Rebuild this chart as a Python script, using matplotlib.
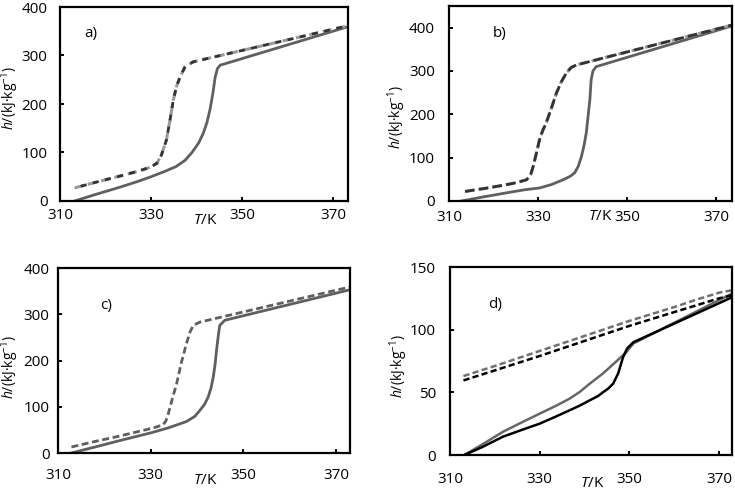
import matplotlib
matplotlib.use("Agg")
import matplotlib.pyplot as plt

plt.rcParams["font.family"] = ["Open Sans", "DejaVu Sans"]
plt.rcParams["mathtext.fontset"] = "custom"
plt.rcParams["mathtext.rm"] = "Open Sans"
plt.rcParams["mathtext.it"] = "Open Sans:italic"

# ---- data (T in K, h in kJ/kg) ----
T_a_solid = [313.2, 318, 323, 327, 330, 333, 335.5, 337.5, 339, 340.5, 341.5,
             342.3, 343, 343.6, 344.1, 344.6, 345.2, 373.15]
h_a_solid = [0, 14, 28, 40, 50, 61, 71, 84, 100, 120, 140, 162, 190, 222, 255,
             273, 280, 359]
T_a_dash = [313.2, 318, 323, 327, 330, 331.3, 332.3, 333.4, 334.2, 334.9, 335.6,
            336.4, 337.5, 339.3, 373.15]
h_a_dash = [27, 39, 51, 61, 70, 78, 95, 126, 168, 208, 236, 256, 277, 287, 361]

T_b_solid = [312.8, 318, 323, 327, 330.3, 333, 335.6, 337.2, 338.2, 339, 339.7,
             340.3, 340.8, 341.2, 341.6, 341.9, 342.3, 343, 373.5]
h_b_solid = [0, 10, 19, 26, 30, 38, 49, 57, 65, 80, 102, 128, 157, 195, 233, 280,
             300, 310, 404]
T_b_dash = [313.6, 318, 322, 325, 327.4, 328.3, 328.9, 329.6, 330.3, 331, 331.8,
            333, 334.1, 335.2, 336.3, 337.4, 338.6, 373.5]
h_b_dash = [22, 29, 36, 42, 49, 60, 80, 110, 141, 162, 180, 215, 249, 275, 295,
            308, 314, 406]

T_c_solid = [312.9, 318, 323, 327, 330.2, 334, 337.7, 339.5, 340.6, 341.6, 342.4,
             343, 343.5, 343.9, 344.2, 344.6, 344.9, 346, 373]
h_c_solid = [0, 13, 26, 36, 44, 55, 68, 79, 92, 105, 121, 140, 164, 192, 222, 255,
             276, 287, 353]
T_c_dash = [312.9, 318, 323, 328, 330.5, 332.7, 333.3, 333.8, 334.6, 335.6, 336.6,
            337.7, 338.5, 339.2, 340.6, 373]
h_c_dash = [13, 25, 36, 48, 54, 61, 70, 85, 115, 150, 195, 236, 262, 276, 283, 359]

T_d_black = [313.2, 317, 321.8, 326, 330, 333.5, 336.7, 339, 341.2, 343, 344.1,
             345.3, 346.4, 347.5, 348.6, 349.5, 350.9, 373]
h_d_black = [0, 6, 14.6, 20, 25, 30.5, 35.7, 39.5, 43.7, 47, 50, 53, 57, 65, 78,
             85, 90, 126]
T_d_gray = [313.2, 317, 321.8, 326, 330, 333.5, 336.7, 339, 341.2, 344.1, 347.2,
            349.3, 350.9, 373]
h_d_gray = [0, 8, 18.5, 26, 33, 39, 45, 50.5, 57, 65, 75, 82, 89, 129]
T_d_dash = [313, 320, 330, 340, 350, 360, 365, 370, 373]
h_d_dash_black = [59.5, 67.5, 79, 91, 103, 114, 119.5, 125, 127.5]
h_d_dash_gray = [63, 71, 83, 95, 107, 118, 124, 129.5, 131.5]

x_ticks = [310, 330, 350, 370]

GRAY = "#5f5f5f"
W, H = 735, 494
FS = 11


def box(l, r, t, b):
  return [l / W, 1 - b / H, (r - l) / W, (b - t) / H]


fig = plt.figure(figsize=(7.35, 4.94), dpi=100)

panels = [
  # name, box, xmax, ymax, yticks, xpad, ypad, label pos, ylabel pos, T/K pos
  ("a)", box(60, 348, 7, 201), 373.3, 400, [0, 100, 200, 300, 400], 5, 9,
   (91, 33), (10, 98), (205, 220)),
  ("b)", box(449, 732, 6, 201), 373.5, 450, [0, 100, 200, 300, 400], 6.5, 10,
   (500, 34), (397, 117), (600, 216)),
  ("c)", box(58, 350, 268, 453), 373, 400, [0, 100, 200, 300, 400], 11, 6,
   (106, 305), (10, 367), (205, 480)),
  ("d)", box(450, 732, 267, 455), 372.9, 150, [0, 50, 100, 150], 12, 10,
   (495, 304), (399, 366), (592, 483)),
]

axes = []
for name, rect, xmax, ymax, yt, xpad, ypad, lpos, ylpos, tpos in panels:
  ax = fig.add_axes(rect)
  ax.set_xlim(310, xmax)
  ax.set_ylim(0, ymax)
  ax.set_xticks(x_ticks)
  ax.set_yticks(yt)
  for s in ax.spines.values():
    s.set_linewidth(1.6)
  ax.tick_params(axis="x", direction="in", length=3, width=1.4, pad=xpad,
                 labelsize=FS)
  ax.tick_params(axis="y", direction="in", length=3, width=1.4, pad=ypad,
                 labelsize=FS)
  fig.text(lpos[0] / W, 1 - lpos[1] / H, name, fontsize=FS, ha="center", va="center")
  fig.text(ylpos[0] / W, 1 - ylpos[1] / H, r"$h$/(kJ·kg$^{-1}$)", fontsize=10,
           rotation=90, ha="center", va="center")
  fig.text(tpos[0] / W, 1 - tpos[1] / H, r"$T$/K", fontsize=FS,
           ha="center", va="center")
  axes.append(ax)

ax_a, ax_b, ax_c, ax_d = axes

# a)
ax_a.plot(T_a_solid, h_a_solid, color=GRAY, lw=2.0)
ax_a.plot(T_a_dash, h_a_dash, color="#9a9a9a", lw=2.2, ls=(0, (3, 1.5)))
ax_a.plot(T_a_dash, h_a_dash, color="#333333", lw=2.0, ls=(2.2, (2.2, 2.3)))

# b)
ax_b.plot(T_b_solid, h_b_solid, color=GRAY, lw=2.0)
ax_b.plot(T_b_dash, h_b_dash, color="#9a9a9a", lw=2.2, ls=(0, (3, 1.5)))
ax_b.plot(T_b_dash, h_b_dash, color="#333333", lw=2.0, ls=(0, (3.5, 1.5)))

# c)
ax_c.plot(T_c_solid, h_c_solid, color=GRAY, lw=2.0)
ax_c.plot(T_c_dash, h_c_dash, color=GRAY, lw=2.0, ls=(0, (2.5, 1.3)))

# d)
ax_d.plot(T_d_gray, h_d_gray, color="#666666", lw=1.8)
ax_d.plot(T_d_black, h_d_black, color="black", lw=1.8)
ax_d.plot(T_d_dash, h_d_dash_gray, color="#707070", lw=1.8, ls=(0, (2.5, 1.3)))
ax_d.plot(T_d_dash, h_d_dash_black, color="black", lw=1.8, ls=(0, (2.5, 1.3)))

fig.savefig("out.png", dpi=100)
